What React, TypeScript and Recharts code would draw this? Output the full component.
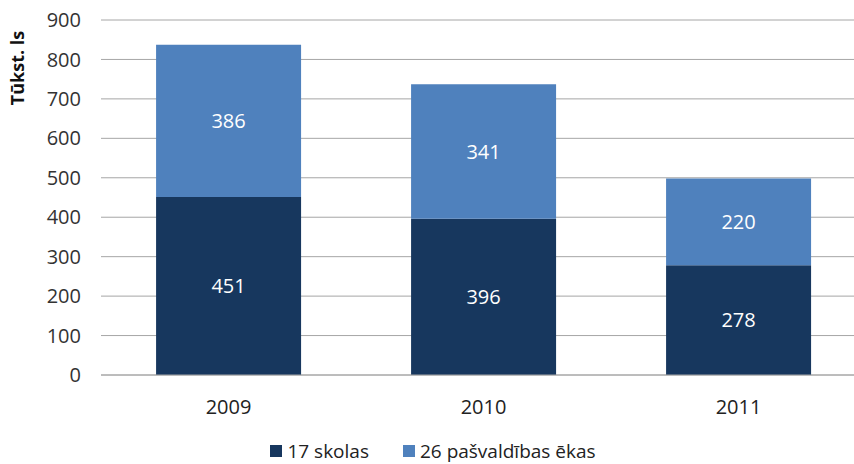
import { BarChart, Bar, XAxis, YAxis, CartesianGrid, LabelList, Legend } from 'recharts';

const years = ['2009', '2010', '2011'];
const skolas = [451, 396, 278];
const ekas = [386, 341, 220];
const yTicks = [0, 100, 200, 300, 400, 500, 600, 700, 800, 900];

const DARK = '#17375E';
const LIGHT = '#4F81BD';
const FONT = '"Open Sans", "Noto Sans", sans-serif';

const data = years.map((year, i) => ({ year, skolas: skolas[i], ekas: ekas[i] }));

function LegendContent() {
  const items = [
    { name: '17 skolas', color: DARK },
    { name: '26 pašvaldības ēkas', color: LIGHT },
  ];
  return (
    <div style={{ display: 'flex', justifyContent: 'center', gap: 34, fontFamily: FONT, fontSize: 19, color: '#222', lineHeight: '24px' }}>
      {items.map((it) => (
        <span key={it.name} style={{ display: 'flex', alignItems: 'center', gap: 5 }}>
          <span style={{ width: 12, height: 12, background: it.color, display: 'inline-block' }} />
          {it.name}
        </span>
      ))}
    </div>
  );
}

export default function App() {
  return (
    <div style={{ position: 'absolute', left: 0, top: 0, width: 854, height: 464, overflow: 'hidden', background: '#fff' }}>
      <BarChart
        width={866}
        height={464}
        data={data}
        margin={{ top: 20, right: 0, bottom: 0, left: 0 }}
        barCategoryGap="21.6%"
      >
        <CartesianGrid vertical={false} stroke="#A6A6A6" />
        <XAxis
          dataKey="year"
          height={89 - 24}
          tickLine={false}
          tickSize={0}
          tickMargin={25}
          axisLine={{ stroke: '#A6A6A6' }}
          tick={{ fill: '#222', fontSize: 20, fontFamily: FONT }}
        />
        <YAxis
          width={101}
          domain={[0, 900]}
          ticks={yTicks}
          interval={0}
          tickLine={false}
          axisLine={false}
          tickSize={0}
          tickMargin={20}
          tick={{ fill: '#333', fontSize: 20, fontFamily: FONT }}
        />
        <Legend verticalAlign="bottom" height={24} content={LegendContent} wrapperStyle={{ left: 0, width: 866, bottom: 1 }} />
        <Bar dataKey="skolas" stackId="a" fill={DARK} isAnimationActive={false}>
          <LabelList dataKey="skolas" position="center" fill="#fff" fontSize={20} fontFamily={FONT} />
        </Bar>
        <Bar dataKey="ekas" stackId="a" fill={LIGHT} isAnimationActive={false}>
          <LabelList dataKey="ekas" position="center" fill="#fff" fontSize={20} fontFamily={FONT} />
        </Bar>
      </BarChart>
      <div
        style={{
          position: 'absolute',
          left: 17,
          top: 68,
          transform: 'translate(-50%, -50%) rotate(-90deg)',
          fontFamily: FONT,
          fontWeight: 'bold',
          fontSize: 18,
          whiteSpace: 'nowrap',
          color: '#111',
        }}
      >
        Tūkst. ls
      </div>
    </div>
  );
}
